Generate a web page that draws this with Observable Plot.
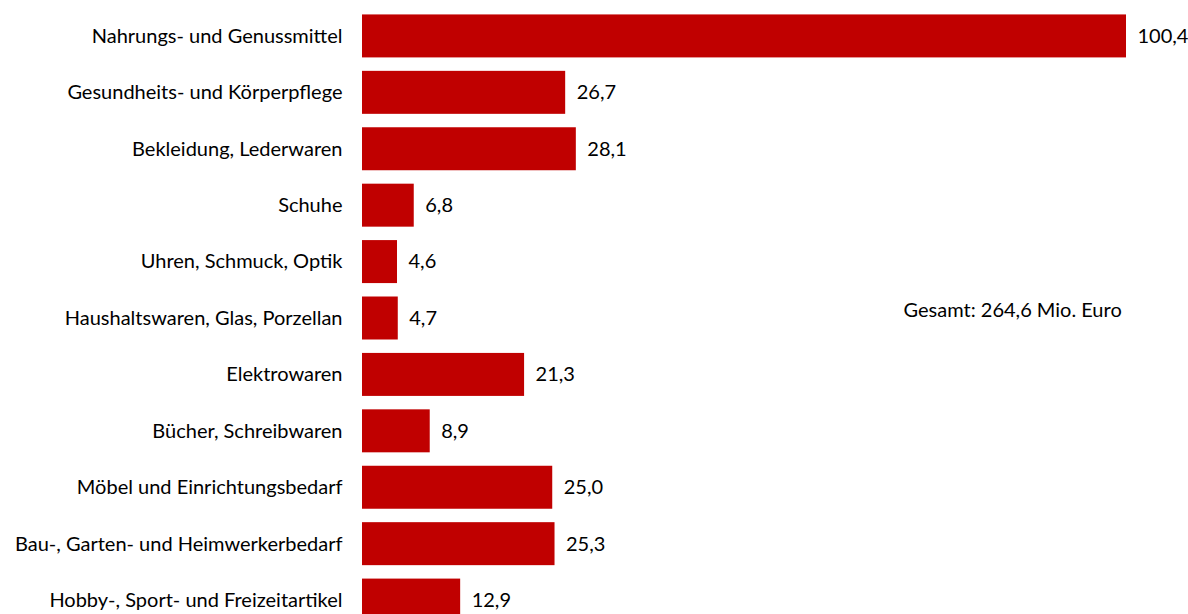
<!DOCTYPE html>
<html>
<head>
<meta charset="utf-8">
<script src="https://cdn.jsdelivr.net/npm/d3@7"></script>
<script src="https://cdn.jsdelivr.net/npm/@observablehq/plot@0.6"></script>
<style>
  html, body { margin: 0; padding: 0; background: #fff; overflow: hidden; }
  #chart svg { display: block; }
</style>
</head>
<body>
<div id="chart"></div>
<script>
const categories = [
  "Nahrungs- und Genussmittel",
  "Gesundheits- und Körperpflege",
  "Bekleidung, Lederwaren",
  "Schuhe",
  "Uhren, Schmuck, Optik",
  "Haushaltswaren, Glas, Porzellan",
  "Elektrowaren",
  "Bücher, Schreibwaren",
  "Möbel und Einrichtungsbedarf",
  "Bau-, Garten- und Heimwerkerbedarf",
  "Hobby-, Sport- und Freizeitartikel"
];
const values = [100.4, 26.7, 28.1, 6.8, 4.6, 4.7, 21.3, 8.9, 25.0, 25.3, 12.9];
const totalLabel = "Gesamt: 264,6 Mio. Euro";

const data = categories.map((c, i) => ({category: c, value: values[i]}));
const fmt = v => v.toFixed(1).replace(".", ",");

const chart = Plot.plot({
  width: 1188,
  height: 640,
  marginLeft: 362,
  marginRight: 62,
  marginTop: 1,
  marginBottom: 5,
  style: {fontFamily: "Lato, 'Open Sans', sans-serif", fontSize: "20px", color: "#000", background: "#fff"},
  x: {domain: [0, 100.4], axis: null},
  y: {domain: categories, padding: 0.238, round: false, label: null},
  marks: [
    Plot.barX(data, {x: "value", y: "category", fill: "#C00000"}),
    Plot.text(data, {x: "value", y: "category", text: d => fmt(d.value), textAnchor: "start", dx: 11, fill: "#000", fontSize: 20}),
    Plot.axisY({tickSize: 0, tickPadding: 20, fontSize: 20, label: null}),
    Plot.text([totalLabel], {x: 71.1, y: () => categories[5], dy: -8, textAnchor: "start", fill: "#000", fontSize: 20})
  ]
});
document.getElementById("chart").append(chart);
</script>
</body>
</html>
